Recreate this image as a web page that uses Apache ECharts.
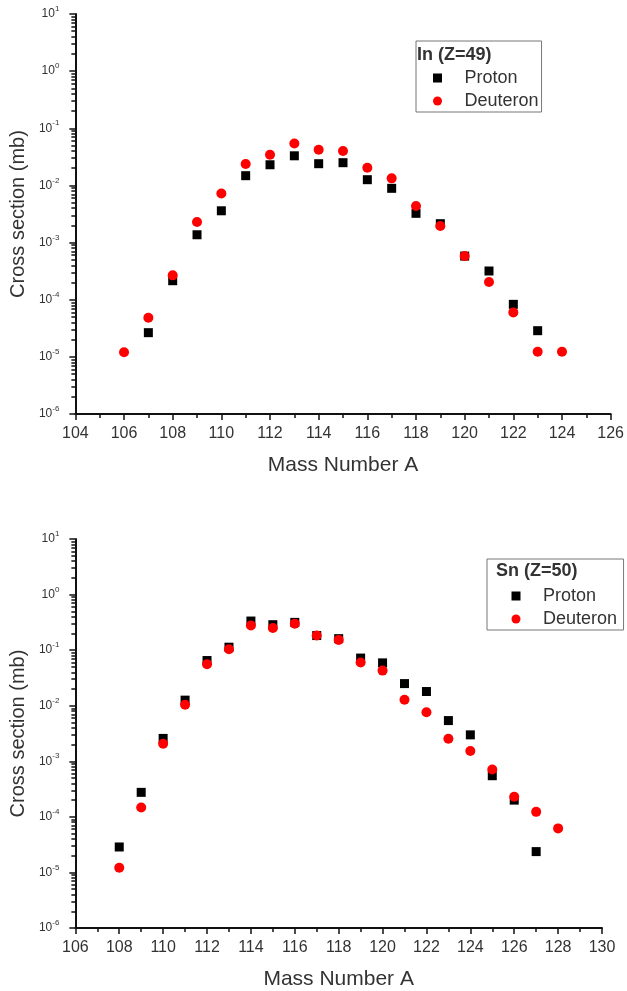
<!DOCTYPE html>
<html>
<head>
<meta charset="utf-8">
<script src="https://cdn.jsdelivr.net/npm/echarts@6.0.0/dist/echarts.min.js"></script>
<style>
  html, body { margin: 0; padding: 0; background: #fff; }
  #chart { width: 627px; height: 991px; }
</style>
</head>
<body>
<div id="chart"></div>
<script>
// In (Z=49)
var massIn = [106, 107, 108, 109, 110, 111, 112, 113, 114, 115, 116, 117, 118, 119, 120, 121, 122, 123, 124];
var inProton = [null, 2.65e-5, 2.15e-4, 1.37e-3, 3.6e-3, 1.48e-2, 2.3e-2, 3.3e-2, 2.4e-2, 2.5e-2,
  1.26e-2, 8.9e-3, 3.25e-3, 2.14e-3, 5.8e-4, 3.18e-4, 8.3e-5, 2.87e-5, null];
var inDeuteron = [1.2e-5, 4.85e-5, 2.67e-4, 2.29e-3, 7.2e-3, 2.37e-2, 3.45e-2, 5.4e-2, 4.2e-2, 4.0e-2,
  2.04e-2, 1.33e-2, 4.37e-3, 1.95e-3, 5.8e-4, 2.04e-4, 6.0e-5, 1.23e-5, 1.23e-5];

// Sn (Z=50)
var massSn = [108, 109, 110, 111, 112, 113, 114, 115, 116, 117, 118, 119, 120, 121, 122, 123, 124, 125, 126, 127, 128];
var snProton = [2.87e-5, 2.76e-4, 2.58e-3, 1.26e-2, 6.5e-2, 0.113, 0.334, 0.287, 0.316, 0.183,
  0.161, 0.072, 0.059, 0.025, 0.018, 5.4e-3, 2.99e-3, 5.5e-4, 2.0e-4, 2.37e-5, null];
var snDeuteron = [1.21e-5, 1.47e-4, 2.07e-3, 1.04e-2, 5.6e-2, 0.104, 0.279, 0.25, 0.30, 0.183,
  0.153, 0.060, 0.0428, 0.0128, 7.6e-3, 2.54e-3, 1.53e-3, 7.1e-4, 2.3e-4, 1.23e-4, 6.2e-5];

var xRangeIn = [104, 126];
var xRangeSn = [106, 130];
var yRange = [1e-6, 10];

function pairs(xs, ys) {
  var out = [];
  for (var i = 0; i < xs.length; i++) {
    if (ys[i] != null) out.push([xs[i], ys[i]]);
  }
  return out;
}

// minor ticks of the log axis: 2..9 in every decade
var logMinor = [];
for (var p = -6; p < 1; p++) {
  for (var m = 2; m <= 9; m++) logMinor.push(m * Math.pow(10, p));
}

var FONT = "'Liberation Sans', Arial, sans-serif";
var INK = '#333';
var squareIcon = 'path://M0,0L1,0L1,1L0,1Z';

function makeX(idx, range) {
  return {
    gridIndex: idx,
    type: 'value',
    min: range[0],
    max: range[1],
    interval: 2,
    name: 'Mass Number A',
    nameLocation: 'middle',
    nameGap: 41,
    nameTextStyle: { fontFamily: FONT, fontSize: 21, color: INK },
    axisLine: { lineStyle: { color: '#111', width: 2 } },
    axisTick: { show: true, inside: false, length: 6, lineStyle: { color: '#111', width: 1.5 } },
    minorTick: { show: true, splitNumber: 2, length: 4, lineStyle: { color: '#111', width: 1.5 } },
    axisLabel: { fontFamily: FONT, fontSize: 16, color: INK, margin: 12 },
    splitLine: { show: false }
  };
}

function makeY(idx) {
  return {
    gridIndex: idx,
    type: 'log',
    logBase: 10,
    min: yRange[0],
    max: yRange[1],
    splitNumber: 7,
    name: 'Cross section (mb)',
    nameLocation: 'middle',
    nameGap: 46,
    nameTextStyle: { fontFamily: FONT, fontSize: 20, color: INK },
    axisLine: { show: true, lineStyle: { color: '#111', width: 2 } },
    axisTick: { show: true, inside: false, length: 6, lineStyle: { color: '#111', width: 1.5 } },
    axisLabel: {
      margin: 16,
      formatter: function (v) {
        var e = Math.round(Math.log10(v));
        return '{b|10}{s|' + e + '}';
      },
      rich: {
        b: { fontFamily: FONT, fontSize: 12, color: INK, lineHeight: 18 },
        s: { fontFamily: FONT, fontSize: 8, color: INK, lineHeight: 8, verticalAlign: 'top' }
      }
    },
    splitLine: { show: false }
  };
}

// second log axis on the same place, only for the short minor ticks
function makeYMinor(idx) {
  return {
    gridIndex: idx,
    type: 'log',
    logBase: 10,
    position: 'left',
    min: yRange[0],
    max: yRange[1],
    axisLine: { show: false },
    axisLabel: { show: false },
    axisTick: { show: true, inside: false, length: 4, customValues: logMinor,
      lineStyle: { color: '#111', width: 1.5 } },
    splitLine: { show: false }
  };
}

function makeLegend(left, top, padLeft, padRight) {
  return {
    left: left,
    top: top,
    orient: 'vertical',
    borderColor: '#777',
    borderWidth: 1,
    borderRadius: 0,
    padding: [28, padRight, 2, padLeft],
    itemGap: 5,
    itemWidth: 44,
    itemHeight: 9,
    selectedMode: false,
    textStyle: { fontFamily: FONT, fontSize: 18, color: INK },
    data: [
      { name: 'Proton', icon: squareIcon },
      { name: 'Deuteron', icon: 'circle' }
    ]
  };
}

var chart = echarts.init(document.getElementById('chart'));

var option = {
  backgroundColor: '#fff',
  animation: false,
  title: [
    { text: 'In (Z=49)', left: 417, top: 46, padding: 0,
      textStyle: { fontFamily: FONT, fontSize: 18, fontWeight: 'bold', color: INK } },
    { text: 'Sn (Z=50)', left: 496, top: 562, padding: 0,
      textStyle: { fontFamily: FONT, fontSize: 18, fontWeight: 'bold', color: INK } }
  ],
  legend: [
    makeLegend(416, 41, 17, 3),
    makeLegend(487, 559, 24.5, 6.5)
  ],
  grid: [
    { left: 75, top: 14, width: 537, height: 400 },
    { left: 73, top: 539, width: 529, height: 392 }
  ],
  xAxis: [makeX(0, xRangeIn), makeX(1, xRangeSn)],
  yAxis: [makeY(0), makeY(1), makeYMinor(0), makeYMinor(1)],
  series: [
    { name: 'Proton', type: 'scatter', xAxisIndex: 0, yAxisIndex: 0, symbol: 'rect', symbolSize: 9,
      itemStyle: { color: '#000', opacity: 1 }, data: pairs(massIn, inProton) },
    { name: 'Deuteron', type: 'scatter', xAxisIndex: 0, yAxisIndex: 0, symbol: 'circle', symbolSize: 10,
      itemStyle: { color: '#ff0000', opacity: 1 }, data: pairs(massIn, inDeuteron) },
    { name: 'Proton', type: 'scatter', xAxisIndex: 1, yAxisIndex: 1, symbol: 'rect', symbolSize: 9,
      itemStyle: { color: '#000', opacity: 1 }, data: pairs(massSn, snProton) },
    { name: 'Deuteron', type: 'scatter', xAxisIndex: 1, yAxisIndex: 1, symbol: 'circle', symbolSize: 10,
      itemStyle: { color: '#ff0000', opacity: 1 }, data: pairs(massSn, snDeuteron) }
  ]
};

chart.setOption(option);
window.addEventListener('resize', function () {
  chart.resize();
});
</script>
</body>
</html>
